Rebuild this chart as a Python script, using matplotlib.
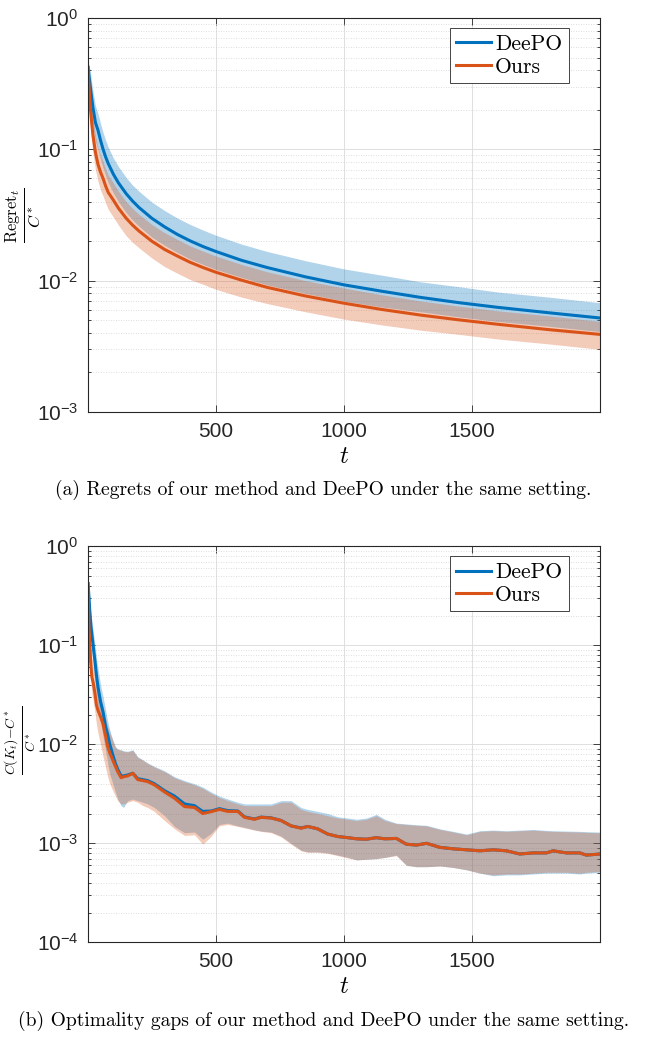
import numpy as np
import matplotlib
matplotlib.use("Agg")
import matplotlib.pyplot as plt
from matplotlib.ticker import LogLocator, NullFormatter, NullLocator

plt.rcParams['font.family'] = ['Liberation Sans', 'DejaVu Sans']
plt.rcParams['mathtext.fontset'] = 'cm'
plt.rcParams['axes.unicode_minus'] = False

# (a) regret / C*
t_a = [1, 5, 10, 15, 20, 30, 40, 50, 60, 70, 80, 100, 120, 150, 175, 200, 250, 300, 350, 400,
       450, 500, 600, 700, 850, 1000, 1150, 1300, 1450, 1600, 1800, 2000]
deepo_reg = [0.42, 0.36, 0.30, 0.25, 0.21, 0.16, 0.14, 0.117, 0.10, 0.0874, 0.078, 0.0647, 0.0555,
             0.046, 0.0404, 0.0361, 0.0299, 0.0257, 0.0225, 0.0201, 0.0182, 0.0167, 0.0143, 0.0126,
             0.0107, 0.0093, 0.0083, 0.00746, 0.0068, 0.00627, 0.0057, 0.0052]
deepo_reg_hi = [0.46, 0.44, 0.39, 0.33, 0.28, 0.215, 0.187, 0.157, 0.134, 0.117, 0.104, 0.086, 0.074,
                0.061, 0.0535, 0.048, 0.0397, 0.0342, 0.0300, 0.0268, 0.0243, 0.0222, 0.0190, 0.0167,
                0.0142, 0.0123, 0.0110, 0.0098, 0.0090, 0.0082, 0.0075, 0.0068]
deepo_reg_lo = [0.39, 0.29, 0.22, 0.18, 0.15, 0.115, 0.10, 0.084, 0.072, 0.063, 0.056, 0.0465, 0.040,
                0.033, 0.029, 0.026, 0.0215, 0.0186, 0.0164, 0.0146, 0.0133, 0.0122, 0.0106, 0.0093,
                0.0080, 0.0070, 0.0063, 0.0058, 0.0053, 0.0049, 0.0045, 0.0041]
ours_reg = [0.42, 0.30, 0.21, 0.163, 0.13, 0.095, 0.077, 0.067, 0.060, 0.0525, 0.047, 0.0411, 0.0356,
            0.0299, 0.0265, 0.0239, 0.0200, 0.0173, 0.0154, 0.0138, 0.0126, 0.0116, 0.0101, 0.0089,
            0.00765, 0.00674, 0.00603, 0.00547, 0.00503, 0.00466, 0.00424, 0.0039]
ours_reg_hi = [0.46, 0.39, 0.28, 0.218, 0.175, 0.128, 0.104, 0.090, 0.081, 0.071, 0.0635, 0.0555, 0.048,
               0.040, 0.0355, 0.032, 0.0268, 0.0232, 0.0206, 0.0184, 0.0168, 0.0154, 0.0133, 0.0117,
               0.0100, 0.0088, 0.0078, 0.0070, 0.0064, 0.0059, 0.0054, 0.0049]
ours_reg_lo = [0.39, 0.22, 0.15, 0.118, 0.095, 0.070, 0.057, 0.049, 0.044, 0.039, 0.035, 0.0305, 0.0265,
               0.022, 0.0196, 0.0178, 0.0149, 0.0128, 0.0114, 0.0102, 0.0094, 0.0086, 0.0075, 0.0067,
               0.0058, 0.0051, 0.0046, 0.0042, 0.0039, 0.0036, 0.0033, 0.0030]

# (b) optimality gap
t_b = [1, 3, 5, 8, 12, 16, 22, 28, 34, 40,
       50, 60, 70, 78, 86, 98, 108, 117, 130, 140,
       156, 176, 195, 215, 234, 260, 300, 339, 378, 417,
       449, 482, 514, 547, 586, 612, 651, 677, 716, 755,
       794, 833, 859, 898, 937, 977, 1016, 1050, 1088, 1127,
       1160, 1205, 1244, 1283, 1323, 1375, 1427, 1479, 1531, 1583,
       1635, 1687, 1739, 1791, 1817, 1869, 1921, 1947, 2000]
ours_gap = [0.42, 0.25, 0.15, 0.10, 0.065, 0.048, 0.041, 0.033, 0.025, 0.022,
            0.019, 0.016, 0.012, 0.0095, 0.0082, 0.0069, 0.0060, 0.0053, 0.0046, 0.0047,
            0.0048, 0.0051, 0.0044, 0.0043, 0.0042, 0.0039, 0.0033, 0.00285, 0.00235, 0.0023,
            0.0020, 0.00209, 0.0022, 0.0021, 0.0021, 0.00183, 0.00175, 0.00183, 0.0018, 0.0017,
            0.0015, 0.00142, 0.00148, 0.0014, 0.00124, 0.00117, 0.00114, 0.00111, 0.0011, 0.00114,
            0.00111, 0.00112, 0.00098, 0.00096, 0.0010, 0.00091, 0.00088, 0.00086, 0.00084, 0.00086,
            0.00084, 0.00078, 0.00080, 0.00080, 0.00084, 0.00080, 0.00080, 0.00076, 0.00078]
deepo_gap = [0.42, 0.36, 0.30, 0.22, 0.16, 0.13, 0.095, 0.070, 0.050, 0.038,
             0.027, 0.021, 0.015, 0.0125, 0.0100, 0.0078, 0.0064, 0.0056, 0.0048, 0.0048,
             0.0049, 0.0051, 0.0045, 0.0044, 0.0043, 0.0040, 0.0034, 0.0030, 0.0025, 0.0024,
             0.0021, 0.00212, 0.00224, 0.00214, 0.00212, 0.00185, 0.00176, 0.00184, 0.00181, 0.0017,
             0.0015, 0.00143, 0.00148, 0.0014, 0.00124, 0.00117, 0.00114, 0.00111, 0.0011, 0.00114,
             0.00111, 0.00112, 0.00098, 0.00096, 0.0010, 0.00091, 0.00088, 0.00086, 0.00084, 0.00086,
             0.00084, 0.00078, 0.00080, 0.00080, 0.00084, 0.00080, 0.00080, 0.00076, 0.00078]
deepo_gap_hi = [0.46, 0.42, 0.37, 0.29, 0.22, 0.18, 0.135, 0.10, 0.075, 0.058,
                0.040, 0.030, 0.022, 0.017, 0.014, 0.011, 0.0095, 0.0090, 0.0088, 0.0086,
                0.0085, 0.0088, 0.0075, 0.0070, 0.0065, 0.0060, 0.0054, 0.0047, 0.0043, 0.0040,
                0.0037, 0.0033, 0.0030, 0.0028, 0.0026, 0.0025, 0.0025, 0.0025, 0.0025, 0.0027,
                0.0027, 0.0023, 0.0022, 0.0021, 0.0020, 0.00185, 0.0018, 0.00175, 0.0018, 0.00196,
                0.00175, 0.0016, 0.00157, 0.00154, 0.00152, 0.0014, 0.00132, 0.00124, 0.00134, 0.00136,
                0.00134, 0.00136, 0.00138, 0.00135, 0.00134, 0.00133, 0.00132, 0.00131, 0.0013]
deepo_gap_lo = [0.38, 0.30, 0.24, 0.16, 0.11, 0.085, 0.062, 0.045, 0.032, 0.024,
                0.017, 0.012, 0.0085, 0.0065, 0.0050, 0.0040, 0.0033, 0.0028, 0.0024, 0.0023,
                0.0027, 0.0028, 0.0027, 0.0026, 0.0025, 0.0023, 0.0019, 0.00148, 0.00128, 0.0013,
                0.0011, 0.00126, 0.00155, 0.0016, 0.0015, 0.00145, 0.00137, 0.00133, 0.0013, 0.00118,
                0.0010, 0.00085, 0.00082, 0.00082, 0.0008, 0.00076, 0.00072, 0.00068, 0.00069, 0.0007,
                0.00072, 0.00076, 0.0006, 0.00058, 0.00058, 0.00059, 0.00057, 0.00054, 0.0005, 0.00047,
                0.00048, 0.00048, 0.00049, 0.0005, 0.0005, 0.0005, 0.00049, 0.0005, 0.00051]
ours_gap_hi = [0.44, 0.32, 0.21, 0.15, 0.10, 0.075, 0.060, 0.050, 0.040, 0.034,
               0.029, 0.024, 0.018, 0.015, 0.013, 0.011, 0.0093, 0.0089, 0.0087, 0.0085,
               0.0084, 0.0087, 0.0074, 0.0069, 0.0064, 0.0059, 0.0053, 0.0046, 0.0042, 0.0039,
               0.0036, 0.0032, 0.0029, 0.0027, 0.0025, 0.0024, 0.0024, 0.0024, 0.0024, 0.0026,
               0.0026, 0.0022, 0.0021, 0.0020, 0.0019, 0.0018, 0.00175, 0.0017, 0.00175, 0.0019,
               0.0017, 0.00158, 0.00155, 0.00152, 0.0015, 0.00138, 0.0013, 0.00122, 0.00132, 0.00134,
               0.00132, 0.00134, 0.00136, 0.00133, 0.00132, 0.00131, 0.0013, 0.00129, 0.00128]
ours_gap_lo = [0.38, 0.20, 0.11, 0.07, 0.045, 0.033, 0.027, 0.021, 0.016, 0.013,
               0.010, 0.0075, 0.0058, 0.0047, 0.0040, 0.0034, 0.0030, 0.0027, 0.0025, 0.0025,
               0.0026, 0.0027, 0.0026, 0.0024, 0.0023, 0.0021, 0.0017, 0.0014, 0.0012, 0.00122,
               0.00098, 0.00118, 0.0015, 0.00155, 0.00148, 0.00143, 0.00136, 0.00132, 0.00128, 0.00116,
               0.00098, 0.00084, 0.00081, 0.00081, 0.00079, 0.00075, 0.00071, 0.00068, 0.00069, 0.0007,
               0.00072, 0.00075, 0.0006, 0.00058, 0.00058, 0.00059, 0.00057, 0.00054, 0.0005, 0.00048,
               0.00049, 0.00049, 0.0005, 0.00051, 0.00051, 0.00051, 0.0005, 0.00051, 0.00052]

blue = '#0072BD'
orange = '#D95319'
dark = '#262626'


def style_axes(ax, ylo):
    ax.set_yscale('log')
    ax.set_xlim(1, 2000)
    ax.set_ylim(ylo, 1)
    ax.set_xticks([500, 1000, 1500])
    ax.xaxis.set_minor_locator(NullLocator())
    ax.yaxis.set_major_locator(LogLocator(base=10, numticks=10))
    ax.yaxis.set_minor_locator(LogLocator(base=10, subs=np.arange(2, 10), numticks=20))
    ax.yaxis.set_minor_formatter(NullFormatter())
    ax.grid(True, which='major', color='#dedede', lw=0.7, ls='-')
    ax.grid(True, which='minor', axis='y', color='#d2d2d2', lw=0.6, ls=(0, (1, 2)))
    ax.set_axisbelow(True)
    ax.tick_params(which='both', direction='in', top=True, right=True, colors=dark,
                   labelsize=15, width=0.6)
    ax.tick_params(which='major', length=5, pad=7)
    ax.tick_params(which='minor', length=2.5)
    for s in ax.spines.values():
        s.set_color(dark)
        s.set_linewidth(0.8)
    ax.set_xlabel('$t$', fontsize=18, labelpad=2)
    leg = ax.legend(loc='upper right', bbox_to_anchor=(0.939, 0.975), borderaxespad=0,
                    prop={'family': 'cmr10', 'size': 15.5}, fancybox=False, framealpha=1,
                    edgecolor=dark, handlelength=1.6, handletextpad=0.2, labelspacing=0.15,
                    borderpad=0.3)
    leg.get_frame().set_linewidth(0.6)


fig = plt.figure(figsize=(6.47, 10.41), dpi=100)
ax1 = fig.add_axes([0.136, 0.6042, 0.7913, 0.3785])
ax2 = fig.add_axes([0.136, 0.0948, 0.7913, 0.3804])

ax1.fill_between(t_a, deepo_reg_lo, deepo_reg_hi, color=blue, alpha=0.3, lw=0)
ax1.fill_between(t_a, ours_reg_lo, ours_reg_hi, color=orange, alpha=0.3, lw=0)
ax1.plot(t_a, deepo_reg, color=blue, lw=2.2, label='DeePO')
ax1.plot(t_a, ours_reg, color=orange, lw=2.2, label='Ours')
style_axes(ax1, 1e-3)
ax1.set_ylabel(r'$\frac{\mathrm{Regret}_t}{C^*}$', fontsize=17, va='center')
ax1.yaxis.set_label_coords(-0.127, 0.5)

ax2.fill_between(t_b, deepo_gap_lo, deepo_gap_hi, color=blue, alpha=0.3, lw=0)
ax2.fill_between(t_b, ours_gap_lo, ours_gap_hi, color=orange, alpha=0.3, lw=0)
ax2.plot(t_b, deepo_gap, color=blue, lw=2.2, label='DeePO')
ax2.plot(t_b, ours_gap, color=orange, lw=2.2, label='Ours')
style_axes(ax2, 1e-4)
ax2.set_ylabel(r'$\frac{C(K_t){-}C^*}{C^*}$', fontsize=14, va='center')
ax2.yaxis.set_label_coords(-0.133, 0.51)

fig.text(0.5, 1 - 490 / 1041, '(a) Regrets of our method and DeePO under the same setting.',
         ha='center', va='center', family='cmr10', fontsize=14.1)
fig.text(0.5, 1 - 1021 / 1041, '(b) Optimality gaps of our method and DeePO under the same setting.',
         ha='center', va='center', family='cmr10', fontsize=14.1)

fig.savefig('out.png', dpi=100)
